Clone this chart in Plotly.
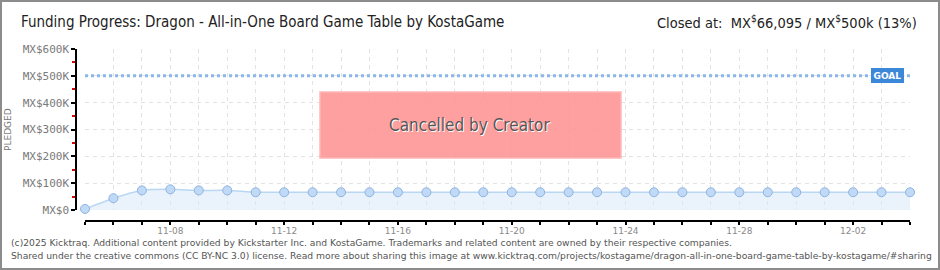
import plotly.graph_objects as go
import pandas as pd

# ---- data ----
dates = pd.date_range("2025-11-05", "2025-12-04", freq="D").strftime("%Y-%m-%d").tolist()
pledged = [4000, 44000, 73000, 77000, 73000, 73000] + [66095] * 24
goal = 500000
ytick_vals = [0, 100000, 200000, 300000, 400000, 500000, 600000]
ytick_text = ["MX$0", "MX$100K", "MX$200K", "MX$300K", "MX$400K", "MX$500K", "MX$600K"]
title_left = "Funding Progress: Dragon - All-in-One Board Game Table by KostaGame"
title_right = "Closed at:  MX<sup>$</sup>66,095 / MX<sup>$</sup>500k (13%)"
status_text = "Cancelled by Creator"
footer1 = "(c)2025 Kicktraq. Additional content provided by Kickstarter Inc. and KostaGame. Trademarks and related content are owned by their respective companies."
footer2 = "Shared under the creative commons (CC BY-NC 3.0) license. Read more about sharing this image at www.kicktraq.com/projects/kostagame/dragon-all-in-one-board-game-table-by-kostagame/#sharing"

W, H = 940, 270
L, R, T, B = 76, 28, 49, 45
PW, PH = W - L - R, H - T - B

def px(x):
    return (x - L) / PW

def py(y):
    return (H - B - y) / PH

DAY = 86400000
COND = "DejaVu Sans Condensed, Liberation Sans Narrow, sans-serif"
GRID = "#e2e2e2"
minor_y = [(a + b) / 2 for a, b in zip(ytick_vals[:-1], ytick_vals[1:])]

fig = go.Figure()
fig.add_trace(go.Scatter(
    x=dates, y=pledged, mode="lines+markers",
    line=dict(color="#b9d6f3", width=1.5, shape="spline", smoothing=0.5),
    fill="tozeroy", fillcolor="rgba(214,232,250,0.5)",
    marker=dict(size=9, color="#bfd9f6", line=dict(color="#8fb4de", width=1)),
    cliponaxis=False, hoverinfo="x+y", showlegend=False,
))
fig.add_trace(go.Scatter(
    x=[dates[0], dates[-1]], y=[goal, goal], mode="lines",
    line=dict(color="#8db7e9", width=3, dash="dot"),
    hoverinfo="skip", showlegend=False,
))

fig.update_layout(
    width=W, height=H, autosize=False,
    margin=dict(l=L, r=R, t=T, b=B, pad=0),
    paper_bgcolor="white", plot_bgcolor="rgba(0,0,0,0)",
    xaxis=dict(
        type="date", anchor="free", position=py(221),
        domain=[px(85), px(910)],
        range=[dates[0], dates[-1]],
        showline=True, linecolor="black", linewidth=1.5,
        ticks="outside", ticklen=3, tickcolor="black", tickwidth=1.5,
        tick0="2025-11-08", dtick=4 * DAY, tickformat="%m-%d",
        ticklabelstandoff=-2,
        tickfont=dict(family="DejaVu Sans", size=9, color="#8a8a8a"),
        showgrid=True, gridcolor=GRID, griddash="4px,4px", gridwidth=1,
        minor=dict(dtick=DAY, ticks="outside", ticklen=3, tickcolor="black", tickwidth=1.5,
                   showgrid=True, gridcolor=GRID, griddash="4px,4px", gridwidth=1),
        zeroline=False,
    ),
    yaxis=dict(
        anchor="free", position=0,
        domain=[py(210), 1],
        range=[0, 600000],
        tickvals=ytick_vals, ticktext=ytick_text,
        tickfont=dict(family="DejaVu Sans Mono", size=11, color="#7a7a7a"),
        showline=True, linecolor="black", linewidth=1.5,
        ticks="outside", ticklen=4, tickcolor="black", tickwidth=1.5,
        minor=dict(tickmode="array", tickvals=minor_y, ticks="outside", ticklen=3,
                   tickcolor="#e00000", tickwidth=1.5, showgrid=False),
        showgrid=True, gridcolor=GRID, griddash="4px,4px",
        zeroline=False,
    ),
)

shapes = [
    dict(type="rect", xref="paper", yref="paper",
         x0=px(320), x1=px(621), y0=py(158), y1=py(92),
         fillcolor="rgba(255,150,150,0.9)", line=dict(color="#ffb5b5", width=1.5), layer="above"),
    dict(type="rect", xref="paper", yref="paper",
         x0=px(1), x1=px(939), y0=py(269), y1=py(1),
         fillcolor="rgba(0,0,0,0)", line=dict(color="#8c8c8c", width=2), layer="above"),
]
fig.update_layout(shapes=shapes)

annotations = [
    dict(text=title_left, xref="paper", yref="paper", x=px(19), y=py(22),
         xanchor="left", yanchor="middle", showarrow=False,
         font=dict(family=COND, size=15, color="#222")),
    dict(text=title_right, xref="paper", yref="paper", x=px(919), y=py(22),
         xanchor="right", yanchor="middle", showarrow=False,
         font=dict(family=COND, size=14.5, color="#222")),
    dict(text=status_text, xref="paper", yref="paper", x=px(470.5), y=py(125.5),
         xanchor="center", yanchor="middle", showarrow=False,
         font=dict(family=COND, size=17, color="white")),
    dict(text=status_text, xref="paper", yref="paper", x=px(469.5), y=py(124.5),
         xanchor="center", yanchor="middle", showarrow=False,
         font=dict(family=COND, size=17, color="#555")),
    dict(text="<b>GOAL</b>", xref="paper", yref="y", x=px(887.5), y=goal,
         xanchor="center", yanchor="middle", showarrow=False,
         bgcolor="#3b88d8", bordercolor="#3b88d8", borderpad=1.5,
         font=dict(family="DejaVu Sans", size=9, color="white")),
    dict(text="PLEDGED", xref="paper", yref="paper", x=px(8), y=py(130),
         xanchor="center", yanchor="middle", showarrow=False, textangle=-90,
         font=dict(family="DejaVu Sans", size=9, color="#777")),
    dict(text=footer1, xref="paper", yref="paper", x=px(9), y=py(242),
         xanchor="left", yanchor="middle", showarrow=False,
         font=dict(family="DejaVu Sans", size=9.2, color="#555")),
    dict(text=footer2, xref="paper", yref="paper", x=px(9), y=py(255),
         xanchor="left", yanchor="middle", showarrow=False,
         font=dict(family="DejaVu Sans", size=9.2, color="#555")),
]
fig.update_layout(annotations=annotations)

fig.write_html("out.html")
